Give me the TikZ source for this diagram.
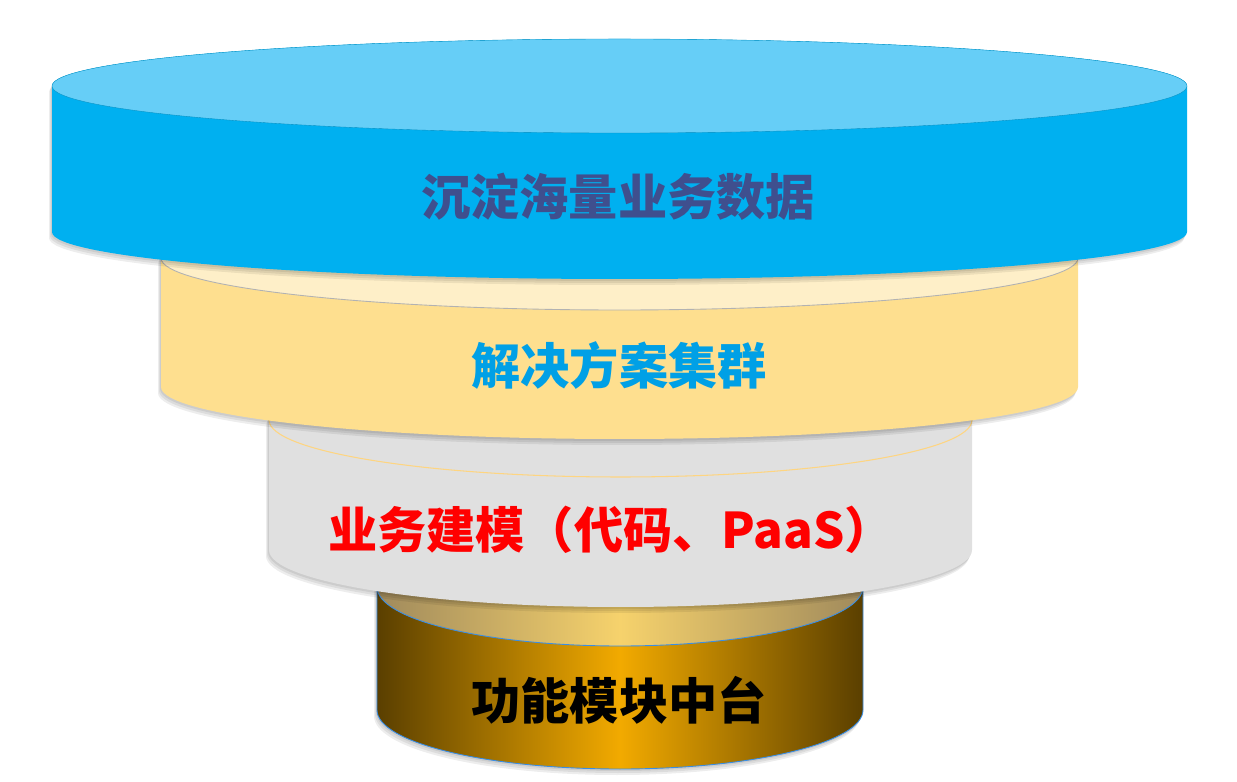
\documentclass[tikz,border=0pt]{standalone}
\usepackage{fontspec}
\newfontfamily\cjk{Noto Sans CJK SC}
\usetikzlibrary{positioning}
\definecolor{blueside}{HTML}{00B0F0}
\definecolor{bluetop}{HTML}{66CEF7}
\definecolor{yelside}{HTML}{FEDF8F}
\definecolor{yeltop}{HTML}{FEEFC8}
\definecolor{greyside}{HTML}{E0E0E0}
\definecolor{goldedge}{HTML}{5A3F00}
\definecolor{goldmid}{HTML}{F2AA00}
\definecolor{tanedge}{HTML}{A08A5C}
\definecolor{tanmid}{HTML}{F6D26C}
\definecolor{rimblue}{HTML}{3A8EE6}
\definecolor{txtslate}{HTML}{3F4F8E}
\definecolor{txtcyan}{HTML}{00A0E6}

% outline of one layer: centre x, top y, bottom y, x radius, y radius
\newcommand{\silhouette}[5]{(#1-#4,#2) -- (#1-#4,#3)
  arc[start angle=180,end angle=360,x radius=#4,y radius=#5]
  -- (#1+#4,#2) arc[start angle=0,end angle=180,x radius=#4,y radius=#5] -- cycle}
% one layer with its shadow: #6 side style, #7 top style
\newcommand{\layer}[7]{%
  \foreach \d in {2,4,6}
    \fill[black,opacity=0.07,shift={(-\d*0.5,-\d)}] \silhouette{#1}{#2}{#3}{#4}{#5};
  \path[#6] \silhouette{#1}{#2}{#3}{#4}{#5};
  \path[#7] (#1,#2) ellipse[x radius=#4,y radius=#5];}

\begin{document}
\begin{tikzpicture}[x=0.02cm,y=0.02cm,
    lbl/.style={font=\cjk\bfseries\fontsize{28}{31}\selectfont, inner sep=0pt}]
  \useasboundingbox (0,0) rectangle (1237,781);
  % Bottom layer
  \layer{620}{194}{71}{243}{59}%
    {left color=goldedge,right color=goldedge,middle color=goldmid,draw=rimblue,line width=0.5pt}%
    {left color=tanedge,right color=tanedge,middle color=tanmid,draw=rimblue,line width=0.5pt}
  % Third layer
  \layer{620.5}{361}{231}{351.5}{57}%
    {fill=greyside}{fill=greyside,draw=yelside!90!orange,line width=0.6pt}
  % Second layer
  \layer{619.5}{523}{394}{458.5}{52}%
    {fill=yelside}{fill=yeltop,draw=black!30,line width=0.5pt}
  % Top layer
  \layer{619.5}{695}{549}{567.5}{47}%
    {fill=blueside}{fill=bluetop,draw=blueside!80!black,line width=0.2pt}
  % Labels
  \node[lbl, text=txtslate] (data) at (618,584) {沉淀海量业务数据};
  \node[lbl, text=txtcyan] (solution) at (619,415) {解决方案集群};
  \node[lbl, text=red] (model) at (611,251) {业务建模（代码、PaaS）};
  \node[lbl, text=black] (module) at (619,81) {功能模块中台};
\end{tikzpicture}
\end{document}
